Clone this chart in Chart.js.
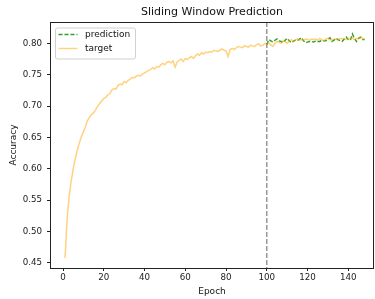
<!DOCTYPE html>
<html>
<head>
<meta charset="utf-8">
<script src="https://cdn.jsdelivr.net/npm/chart.js@4"></script>
<style>
    html, body { margin: 0; padding: 0; background: #fff; }
    #wrap { width: 375px; height: 299px; }
</style>
</head>
<body>
<div id="wrap"><canvas id="slidingChart" width="375" height="299"></canvas></div>
<script>
// data
const targetStart = 1;
const targetAcc = [
    0.458, 0.520, 0.556, 0.580, 0.600, 0.616, 0.630, 0.641, 0.651, 0.659,
    0.667, 0.677, 0.682, 0.687, 0.689, 0.694, 0.700, 0.704, 0.708, 0.712,
    0.714, 0.718, 0.720, 0.726, 0.728, 0.727, 0.733, 0.735, 0.734, 0.739,
    0.737, 0.741, 0.743, 0.746, 0.745, 0.748, 0.749, 0.748, 0.751, 0.753,
    0.755, 0.757, 0.758, 0.761, 0.759, 0.763, 0.762, 0.766, 0.768, 0.766,
    0.770, 0.771, 0.769, 0.772, 0.762, 0.770, 0.773, 0.775, 0.771, 0.776,
    0.774, 0.777, 0.779, 0.776, 0.780, 0.783, 0.781, 0.785, 0.783, 0.786,
    0.785, 0.787, 0.786, 0.789, 0.788, 0.787, 0.789, 0.791, 0.789, 0.788,
    0.779, 0.790, 0.792, 0.790, 0.793, 0.795, 0.794, 0.793, 0.796, 0.795,
    0.794, 0.797, 0.796, 0.795, 0.798, 0.799, 0.796, 0.797, 0.800, 0.798,
    0.801, 0.797, 0.795, 0.800, 0.803, 0.802, 0.800, 0.804, 0.803, 0.800,
    0.804, 0.806, 0.803, 0.805, 0.807, 0.805, 0.806, 0.805, 0.807, 0.806,
    0.805, 0.807, 0.806, 0.807, 0.805, 0.808, 0.806, 0.804, 0.807, 0.808,
    0.806, 0.805, 0.807, 0.807, 0.805, 0.808, 0.807, 0.808, 0.806, 0.808,
    0.807, 0.809, 0.806, 0.808, 0.807, 0.810, 0.808, 0.806
];

const predStart = 100;
const predAcc = [
    0.798, 0.806, 0.804, 0.802, 0.805, 0.807, 0.804, 0.803, 0.801, 0.805,
    0.808, 0.804, 0.801, 0.803, 0.805, 0.804, 0.807, 0.809, 0.804, 0.801,
    0.802, 0.803, 0.803, 0.802, 0.804, 0.803, 0.803, 0.805, 0.804, 0.804,
    0.807, 0.809, 0.803, 0.805, 0.808, 0.806, 0.804, 0.803, 0.807, 0.810,
    0.806, 0.805, 0.815, 0.808, 0.803, 0.808, 0.810, 0.806, 0.806
];

const splitEpoch = 100;
const xTickStep = 20;
const yTickStep = 0.05;

const FONT = "'DejaVu Sans', sans-serif";

const targetColor = 'rgba(255,165,0,0.5)';
const predColor = '#2ca02c';

function toPoints(start, values) {
    return values.map((v, i) => ({ x: start + i, y: v }));
}

// garis putus2 di epoch 100, frame, legend, judul
const decorPlugin = {
    id: 'decor',
    afterDatasetsDraw(chart) {
        const { ctx, chartArea: a, scales } = chart;
        const px = scales.x.getPixelForValue(splitEpoch);
        ctx.save();
        ctx.strokeStyle = '#808080';
        ctx.lineWidth = 1.2;
        ctx.setLineDash([5, 2]);
        ctx.beginPath();
        ctx.moveTo(px, a.top);
        ctx.lineTo(px, a.bottom);
        ctx.stroke();
        ctx.restore();
    },
    afterDraw(chart) {
        const { ctx, chartArea: a } = chart;
        ctx.save();

        // frame
        ctx.strokeStyle = '#222';
        ctx.lineWidth = 1;
        ctx.strokeRect(a.left + 0.5, a.top + 0.5, a.right - a.left - 1, a.bottom - a.top);

        // title
        ctx.fillStyle = '#111';
        ctx.textAlign = 'center';
        ctx.textBaseline = 'middle';
        ctx.font = '11px ' + FONT;
        ctx.fillText('Sliding Window Prediction', (a.left + a.right) / 2, 12.5);

        // axis titles
        ctx.font = '9px ' + FONT;
        ctx.fillText('Epoch', (a.left + a.right) / 2, 291.5);
        ctx.translate(14, (a.top + a.bottom) / 2);
        ctx.rotate(-Math.PI / 2);
        ctx.fillText('Accuracy', 0, 0);
        ctx.restore();

        // legend
        ctx.save();
        const lx = 55, ly = 27.5, lw = 80, lh = 31;
        ctx.fillStyle = 'rgba(255,255,255,0.85)';
        ctx.strokeStyle = '#d0d0d0';
        ctx.lineWidth = 1;
        ctx.beginPath();
        ctx.roundRect(lx + 0.5, ly + 0.5, lw, lh, 2);
        ctx.fill();
        ctx.stroke();

        const items = chart.data.datasets.map(ds => ({
            label: ds.label, color: ds.borderColor, dash: ds.borderDash || []
        }));
        items.forEach((it, i) => {
            const y = 34.5 + i * 14;
            ctx.strokeStyle = it.color;
            ctx.lineWidth = 1.4;
            ctx.setLineDash(it.dash);
            ctx.beginPath();
            ctx.moveTo(58.5, y);
            ctx.lineTo(77.5, y);
            ctx.stroke();
            ctx.setLineDash([]);
            ctx.fillStyle = '#111';
            ctx.font = '9px ' + FONT;
            ctx.textAlign = 'left';
            ctx.textBaseline = 'middle';
            ctx.fillText(it.label, 85, y);
        });
        ctx.restore();
    }
};

const ctx = document.getElementById('slidingChart');

const slidingChart = new Chart(ctx, {
    type: 'line',
    data: {
        datasets: [
            {
                label: 'prediction',
                data: toPoints(predStart, predAcc),
                borderColor: predColor,
                borderWidth: 1.4,
                borderDash: [4, 2],
                pointRadius: 0,
                tension: 0,
                order: 1
            },
            {
                label: 'target',
                data: toPoints(targetStart, targetAcc),
                borderColor: targetColor,
                borderWidth: 1.5,
                pointRadius: 0,
                tension: 0,
                order: 0
            }
        ]
    },
    options: {
        responsive: false,
        animation: false,
        events: [],
        layout: {
            padding: { top: 22, left: 0, right: 1, bottom: 0 }
        },
        plugins: {
            legend: { display: false },
            title: { display: false },
            tooltip: { enabled: false }
        },
        scales: {
            x: {
                type: 'linear',
                min: -6.39,
                max: 152.6,
                afterFit(scale) { scale.height = 31; },
                border: { display: false },
                grid: {
                    drawOnChartArea: false,
                    drawTicks: true,
                    tickLength: 3,
                    color: '#222'
                },
                ticks: {
                    stepSize: xTickStep,
                    includeBounds: false,
                    maxRotation: 0,
                    padding: 2,
                    color: '#222',
                    font: { family: FONT, size: 8.7 },
                    callback: v => String(v)
                }
            },
            y: {
                type: 'linear',
                min: 0.442,
                max: 0.834,
                afterFit(scale) { scale.width = 50; },
                border: { display: false },
                grid: {
                    drawOnChartArea: false,
                    drawTicks: true,
                    tickLength: 3,
                    color: '#222'
                },
                ticks: {
                    stepSize: yTickStep,
                    includeBounds: false,
                    padding: 5,
                    color: '#222',
                    font: { family: FONT, size: 8.7 },
                    callback: v => v.toFixed(2)
                }
            }
        }
    },
    plugins: [decorPlugin]
});
</script>
</body>
</html>
